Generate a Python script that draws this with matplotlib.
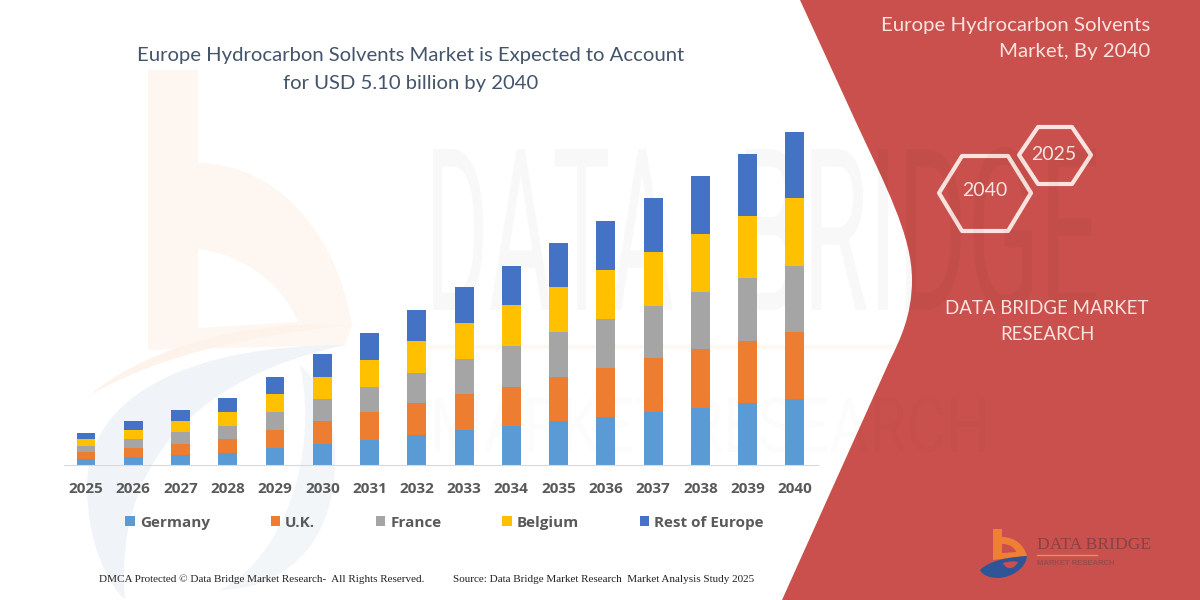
import matplotlib
matplotlib.use('Agg')
import matplotlib.pyplot as plt
import matplotlib.patheffects as pe
from matplotlib.patches import PathPatch, Polygon
from matplotlib.path import Path
from matplotlib.transforms import Affine2D

years = list(range(2025, 2041))
germany = [6, 7.7, 9.7, 12, 17, 21, 25.3, 30, 35, 39, 44, 48, 52.7, 57.3, 61.7, 66]
uk = [7, 9, 11.3, 13.7, 18.3, 23.3, 27.7, 32, 36, 39, 44, 49, 54, 58.3, 62.7, 67.3]
france = [6.5, 9, 11.7, 13.3, 17.3, 21.7, 25.3, 30, 35, 41, 45, 49, 52.7, 57.7, 62.3, 66]
belgium = [6.5, 9.3, 11, 13.7, 18.3, 22, 27, 32, 36, 41, 45, 49, 53.4, 57.7, 62.3, 67.7]
rest = [6.5, 9, 11.7, 14, 17, 23, 27, 31, 36, 39, 44, 49, 54, 58.3, 62, 66.3]
series = [germany, uk, france, belgium, rest]
names = ['Germany', 'U.K.', 'France', 'Belgium', 'Rest of Europe']
colors = ['#5B9BD5', '#ED7D31', '#A5A5A5', '#FFC000', '#4472C4']

RED = '#C9504C'
PALE = '#FBE3DF'
TITLE = '#44546A'
GREY = '#595959'


class Squeeze(pe.AbstractPathEffect):
    # narrows the big watermark letters around a fixed x
    def __init__(self, sx, x0):
        super().__init__()
        self.sx = sx
        self.x0 = x0

    def draw_path(self, renderer, gc, tpath, affine, rgbFace=None):
        t = affine + Affine2D().translate(-self.x0, 0).scale(self.sx, 1).translate(self.x0, 0)
        renderer.draw_path(gc, tpath, t, rgbFace)


def curve(ax, verts, codes, **kw):
    ax.add_patch(PathPatch(Path(verts, codes), lw=0, **kw))


M, L, C4, CP = Path.MOVETO, Path.LINETO, Path.CURVE4, Path.CLOSEPOLY

fig = plt.figure(figsize=(12, 6), dpi=100)
bg = fig.add_axes([0, 0, 1, 1], zorder=0)
bg.set_xlim(0, 1200)
bg.set_ylim(600, 0)
bg.axis('off')

# faint logo behind the chart
curve(bg, [(148, 70), (198, 70), (198, 163), (270, 163), (335, 225), (352, 325), (345, 345), (148, 350), (148, 70)],
      [M, L, L, C4, C4, C4, L, L, CP], fc='#FEF6F0')
curve(bg, [(198, 249), (250, 255), (285, 290), (298, 322), (198, 328), (198, 249)],
      [M, C4, C4, C4, L, CP], fc='white')
curve(bg, [(90, 395), (150, 345), (250, 320), (350, 325), (250, 335), (160, 355), (90, 395)],
      [M, C4, C4, C4, C4, C4, C4], fc='#FEF3EB')
curve(bg, [(345, 345), (200, 345), (85, 390), (87, 490), (88, 540), (105, 580), (125, 600), (118, 520), (140, 390), (345, 345)],
      [M, C4, C4, C4, C4, C4, C4, C4, C4, C4], fc='#F0F4F8')
curve(bg, [(300, 365), (340, 400), (345, 480), (320, 530), (300, 570), (260, 590), (220, 590), (280, 560), (320, 460), (300, 365)],
      [M, C4, C4, C4, C4, C4, C4, C4, C4, C4], fc='#F3F6F9')
bg.plot([430, 890], [347, 347], color='#FEF8F3', lw=3)

# red panel on the right
curve(bg, [(800, 0), (855, 120), (885, 185), (912, 235), (912, 280), (912, 315), (900, 340), (890, 360),
           (782, 600), (1200, 600), (1200, 0), (800, 0)],
      [M, L, C4, C4, C4, C4, C4, C4, L, L, L, CP], fc=RED)

# faint company name across the chart
bg.text(425, 310, 'DATA', fontsize=163, family='Roboto', color='black', alpha=0.028,
        va='baseline', path_effects=[Squeeze(0.43, 425)])
bg.text(1100, 310, 'BRIDGE', fontsize=163, family='Roboto', color='black', alpha=0.028,
        ha='right', va='baseline', path_effects=[Squeeze(0.47, 1100)])
bg.text(430, 452, 'MARKET RESEARCH', fontsize=55, family='Roboto', color='black', alpha=0.012,
        va='baseline', path_effects=[Squeeze(0.8, 430)])

# chart area, baseline sits at y=465 px
ax = fig.add_axes([64 / 1200, 135 / 600, 754 / 1200, 365 / 600], zorder=1)
ax.patch.set_alpha(0)
bottom = [0] * len(years)
for vals, name, col in zip(series, names, colors):
    ax.bar(years, vals, 0.4, bottom=bottom, color=col, label=name)
    bottom = [b + v for b, v in zip(bottom, vals)]
ax.set_xlim(2025 - 0.466, 2025 + 15.49)
ax.set_ylim(0, 365)
ax.set_yticks([])
ax.set_xticks(years)
ax.set_xticklabels(years, family='Open Sans', weight='bold', fontsize=11, color=GREY)
ax.tick_params(axis='x', length=0, pad=12)
for s in ['top', 'left', 'right']:
    ax.spines[s].set_visible(False)
ax.spines['bottom'].set_color('#D9D9D9')
leg = ax.legend(ncol=5, frameon=False, loc='center left', bbox_to_anchor=(0.0815, -0.158), borderpad=0, borderaxespad=0,
                handlelength=0.62, handleheight=0.62, handletextpad=0.33, columnspacing=3.97,
                prop={'family': 'Open Sans', 'weight': 'bold', 'size': 11})
for t in leg.get_texts():
    t.set_color(GREY)

# titles
bg.text(411, 56, 'Europe Hydrocarbon Solvents Market is Expected to Account', ha='center', va='center',
        family='Lato', fontsize=14.6, color=TITLE)
bg.text(411, 83, 'for USD 5.10 billion by 2040', ha='center', va='center', family='Lato', fontsize=14.6, color=TITLE)
bg.text(1150, 25, 'Europe Hydrocarbon Solvents', ha='right', va='center', family='Lato', fontsize=14.7, color=PALE)
bg.text(1150, 51, 'Market, By 2040', ha='right', va='center', family='Lato', fontsize=14.7, color=PALE)
bg.text(1047, 308, 'DATA BRIDGE MARKET', ha='center', va='center', family='Lato', fontsize=13.4, color=PALE)
bg.text(1047, 335, 'RESEARCH', ha='center', va='center', family='Lato', fontsize=13.4, color=PALE)

# hexagons
bg.add_patch(Polygon([(939, 193), (962, 156), (1008, 156), (1031, 193), (1008, 231), (962, 231)],
                     fc='none', ec=PALE, lw=3, joinstyle='round'))
bg.add_patch(Polygon([(1019, 155), (1038, 127), (1072, 127), (1091, 155), (1072, 184), (1038, 184)],
                     fc='none', ec=PALE, lw=3, joinstyle='round'))
bg.text(985, 191, '2040', ha='center', va='center', family='Lato', fontsize=14, color=PALE)
bg.text(1054, 155, '2025', ha='center', va='center', family='Lato', fontsize=14, color=PALE)

# footer
bg.text(99, 579, 'DMCA Protected © Data Bridge Market Research-  All Rights Reserved.', va='center',
        family='Liberation Serif', fontsize=8, color='#222222')
bg.text(453, 579, 'Source: Data Bridge Market Research  Market Analysis Study 2025', va='center',
        family='Liberation Serif', fontsize=8, color='#222222')

# small logo bottom right
curve(bg, [(993, 529), (1002, 529), (1002, 537), (1015, 537), (1024, 545), (1027, 556), (993, 560), (993, 529)],
      [M, L, L, C4, C4, C4, L, CP], fc='#EE7F35')
curve(bg, [(1002, 544), (1010, 544), (1015, 548), (1016, 552), (1002, 553), (1002, 544)],
      [M, C4, C4, C4, L, CP], fc=RED)
curve(bg, [(980, 570), (990, 560), (1010, 557), (1027, 556), (1026, 568), (1012, 578), (997, 578), (990, 578), (982, 575), (980, 570)],
      [M, C4, C4, C4, C4, C4, C4, C4, C4, C4], fc='#2F5597')
curve(bg, [(1003, 563), (1010, 561), (1014, 561), (1018, 562), (1014, 570), (1006, 570), (1003, 563)],
      [M, C4, C4, C4, C4, C4, C4], fc=RED)
bg.text(1037, 545, 'DATA BRIDGE', va='center', family='Liberation Serif', fontsize=12.6, color='#8A4048')
bg.plot([1037, 1097], [555, 555], color='#E98A6A', lw=1)
bg.text(1037, 563.5, 'MARKET RESEARCH', va='center', family='Liberation Sans', fontsize=5.5, color='#9A4A4E',
        weight='bold')

fig.savefig('out.png', dpi=100)
